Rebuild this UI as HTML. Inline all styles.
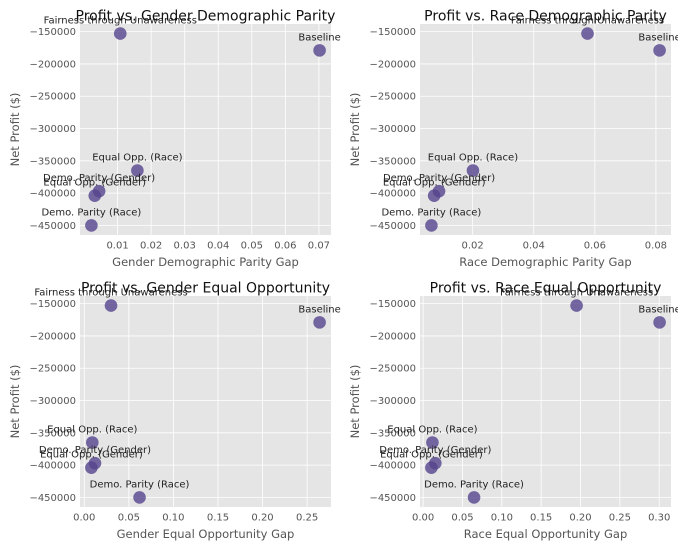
<!DOCTYPE html>
<html><head><meta charset="utf-8">
<style>
html,body{margin:0;padding:0;background:#fff;}
svg{display:block;font-family:"DejaVu Sans","Liberation Sans",sans-serif;}
</style></head>
<body>
<svg id="fig" width="678" height="543" viewBox="0 0 678 543" xmlns="http://www.w3.org/2000/svg"></svg>
<script>
const methods = ["Baseline","Fairness through Unawareness","Equal Opp. (Race)","Demo. Parity (Gender)","Equal Opp. (Gender)","Demo. Parity (Race)"];
const netProfit = [-179000,-153000,-365000,-397000,-404000,-450000];
const genderDPGap = [0.0702,0.0108,0.0159,0.0045,0.0032,0.0022];
const raceDPGap = [0.0812,0.0576,0.0201,0.0090,0.0074,0.0065];
const genderEOGap = [0.264,0.030,0.009,0.012,0.008,0.062];
const raceEOGap = [0.3005,0.195,0.0118,0.0155,0.0105,0.0647];
const yTicks = [-150000,-200000,-250000,-300000,-350000,-400000,-450000];
const xTicksGDP = [0.01,0.02,0.03,0.04,0.05,0.06,0.07];
const xTicksRDP = [0.02,0.04,0.06,0.08];
const xTicksGEO = [0,0.05,0.10,0.15,0.20,0.25];
const xTicksREO = [0,0.05,0.10,0.15,0.20,0.25,0.30];

const NS="http://www.w3.org/2000/svg";
const svg=document.getElementById('fig');
function mk(tag,attrs,parent){const e=document.createElementNS(NS,tag);for(const k in attrs)e.setAttribute(k,attrs[k]);(parent||svg).appendChild(e);return e;}

function panel(key,title,xlabel,xs,xticks,xdec,L,T){
  const W=251,H=211,R=L+W,B=T+H;
  const g=mk('g',{});
  
  
  const xmn=Math.min(...xs),xmx=Math.max(...xs),xm=(xmx-xmn)*0.05;
  const ymn=Math.min(...netProfit),ymx=Math.max(...netProfit),ym=(ymx-ymn)*0.05;
  const x0=xmn-xm,x1=xmx+xm,y0=ymn-ym,y1=ymx+ym;
  const sx=v=>L+(v-x0)/(x1-x0)*W;
  const sy=v=>B-(v-y0)/(y1-y0)*H;
  const bg=mk('rect',{x:L,y:T,width:W,height:H,fill:'#e5e5e5'},g);
  
  
  yTicks.forEach(t=>{
    const y=sy(t);
    const ln=mk('line',{x1:L,x2:R,y1:y,y2:y,stroke:'#fff','stroke-width':0.8},g);
    
    
    const tx=mk('text',{x:L-4,y:y+3.5,'text-anchor':'end','font-size':10,fill:'#555'},g);
    
    
    tx.textContent='\u2212'+Math.abs(t);
  });
  xticks.forEach(t=>{
    const x=sx(t);
    const ln=mk('line',{x1:x,x2:x,y1:T,y2:B,stroke:'#fff','stroke-width':0.8},g);
    
    
    const tx=mk('text',{x:x,y:B+13.5,'text-anchor':'middle','font-size':10,fill:'#555'},g);
    
    
    tx.textContent=t.toFixed(xdec);
  });
  xs.forEach((v,i)=>{
    const c=mk('circle',{cx:sx(v),cy:sy(netProfit[i]),r:6.3,fill:'#55448c','fill-opacity':0.8},g);
    
    
  });
  xs.forEach((v,i)=>{
    const tx=mk('text',{x:sx(v),y:sy(netProfit[i])-10,'text-anchor':'middle','font-size':10,fill:'#222'},g);
    
    
    tx.textContent=methods[i];
  });
  const tt=mk('text',{x:L+W/2,y:T-3.5,'text-anchor':'middle','font-size':14,fill:'#111'},g);
  
  
  tt.textContent=title;
  const xl=mk('text',{x:L+W/2,y:B+31,'text-anchor':'middle','font-size':11.5,fill:'#555'},g);
  
  
  xl.textContent=xlabel;
  const yl=mk('text',{x:0,y:0,'text-anchor':'middle','font-size':11.5,fill:'#555',transform:'translate('+(L-61)+','+(T+H/2)+') rotate(-90)'},g);
  
  
  yl.textContent='Net Profit ($)';
}
panel('gender-dp','Profit vs. Gender Demographic Parity','Gender Demographic Parity Gap',genderDPGap,xTicksGDP,2,80,24);
panel('race-dp','Profit vs. Race Demographic Parity','Race Demographic Parity Gap',raceDPGap,xTicksRDP,2,420,24);
panel('gender-eo','Profit vs. Gender Equal Opportunity','Gender Equal Opportunity Gap',genderEOGap,xTicksGEO,2,80,296);
panel('race-eo','Profit vs. Race Equal Opportunity','Race Equal Opportunity Gap',raceEOGap,xTicksREO,2,420,296);
</script>
</body></html>
